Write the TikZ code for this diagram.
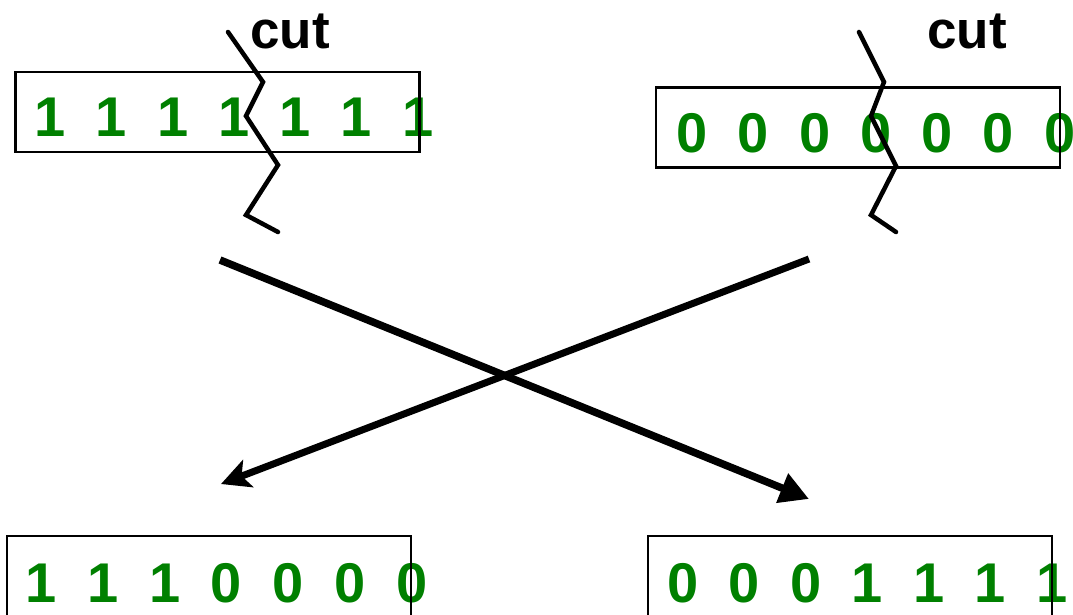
\documentclass[tikz,border=0pt]{standalone}
\usepackage{fontspec}
\setmainfont{Liberation Sans}
\usetikzlibrary{arrows.meta, positioning}
\definecolor{bitgreen}{RGB}{0,128,0}

\begin{document}
\begin{tikzpicture}[x=1pt, y=-1pt,
  bit/.style={anchor=base, inner sep=0pt, text=bitgreen,
              font=\fontsize{56}{56}\selectfont\bfseries},
  chrom/.style={draw, line width=2.5pt, minimum width=404pt,
                minimum height=80pt, inner sep=0pt},
  cutline/.style={line width=4.5pt, line cap=round},
  cutlabel/.style={anchor=base west, inner sep=0pt,
                   font=\fontsize{53}{53}\selectfont\bfseries}]
  \useasboundingbox (0,0) rectangle (1073,615);
  \clip (0,0) rectangle (1073,615);

  % parents
  \foreach \i in {0,...,6}
    \node[bit] (pa\i) at (50+61.3*\i,137) {1};
  \node[chrom] (pa) at (217.5,112) {};
  \foreach \i in {0,...,6}
    \node[bit] (pb\i) at (692+61.3*\i,153) {0};
  \node[chrom] (pb) at (858,127.5) {};

  % offspring after the swap
  \foreach \i/\b in {0/1,1/1,2/1,3/0,4/0,5/0,6/0}
    \node[bit] (ca\i) at (41+61.8*\i,602) {\b};
  \node[chrom] (ca) at (209,576) {};
  \foreach \i/\b in {0/0,1/0,2/0,3/1,4/1,5/1,6/1}
    \node[bit] (cb\i) at (683+61.5*\i,602) {\b};
  \node[chrom] (cb) at (850,576) {};

  % cut points
  \draw[cutline] (228,32) -- (263,82) -- (246,116) -- (278,165) -- (246,215) -- (278,232);
  \node[cutlabel] (cuta) at (250,49) {cut};
  \draw[cutline] (859,32) -- (884,82) -- (871,116) -- (896,166) -- (871,215) -- (896,232);
  \node[cutlabel] (cutb) at (927,49) {cut};

  % crossing arrows
  \coordinate (fromA) at (220,260);
  \coordinate (toA) at (809,499);
  \coordinate (fromB) at (809,259);
  \coordinate (toB) at (221,484);
  \draw[line width=7.5pt, -{Triangle[length=29pt,width=30pt]}] (fromA) -- (toA);
  \draw[line width=7pt, -{Stealth[length=29pt,width=29pt,inset=7pt]}] (fromB) -- (toB);
\end{tikzpicture}
\end{document}
